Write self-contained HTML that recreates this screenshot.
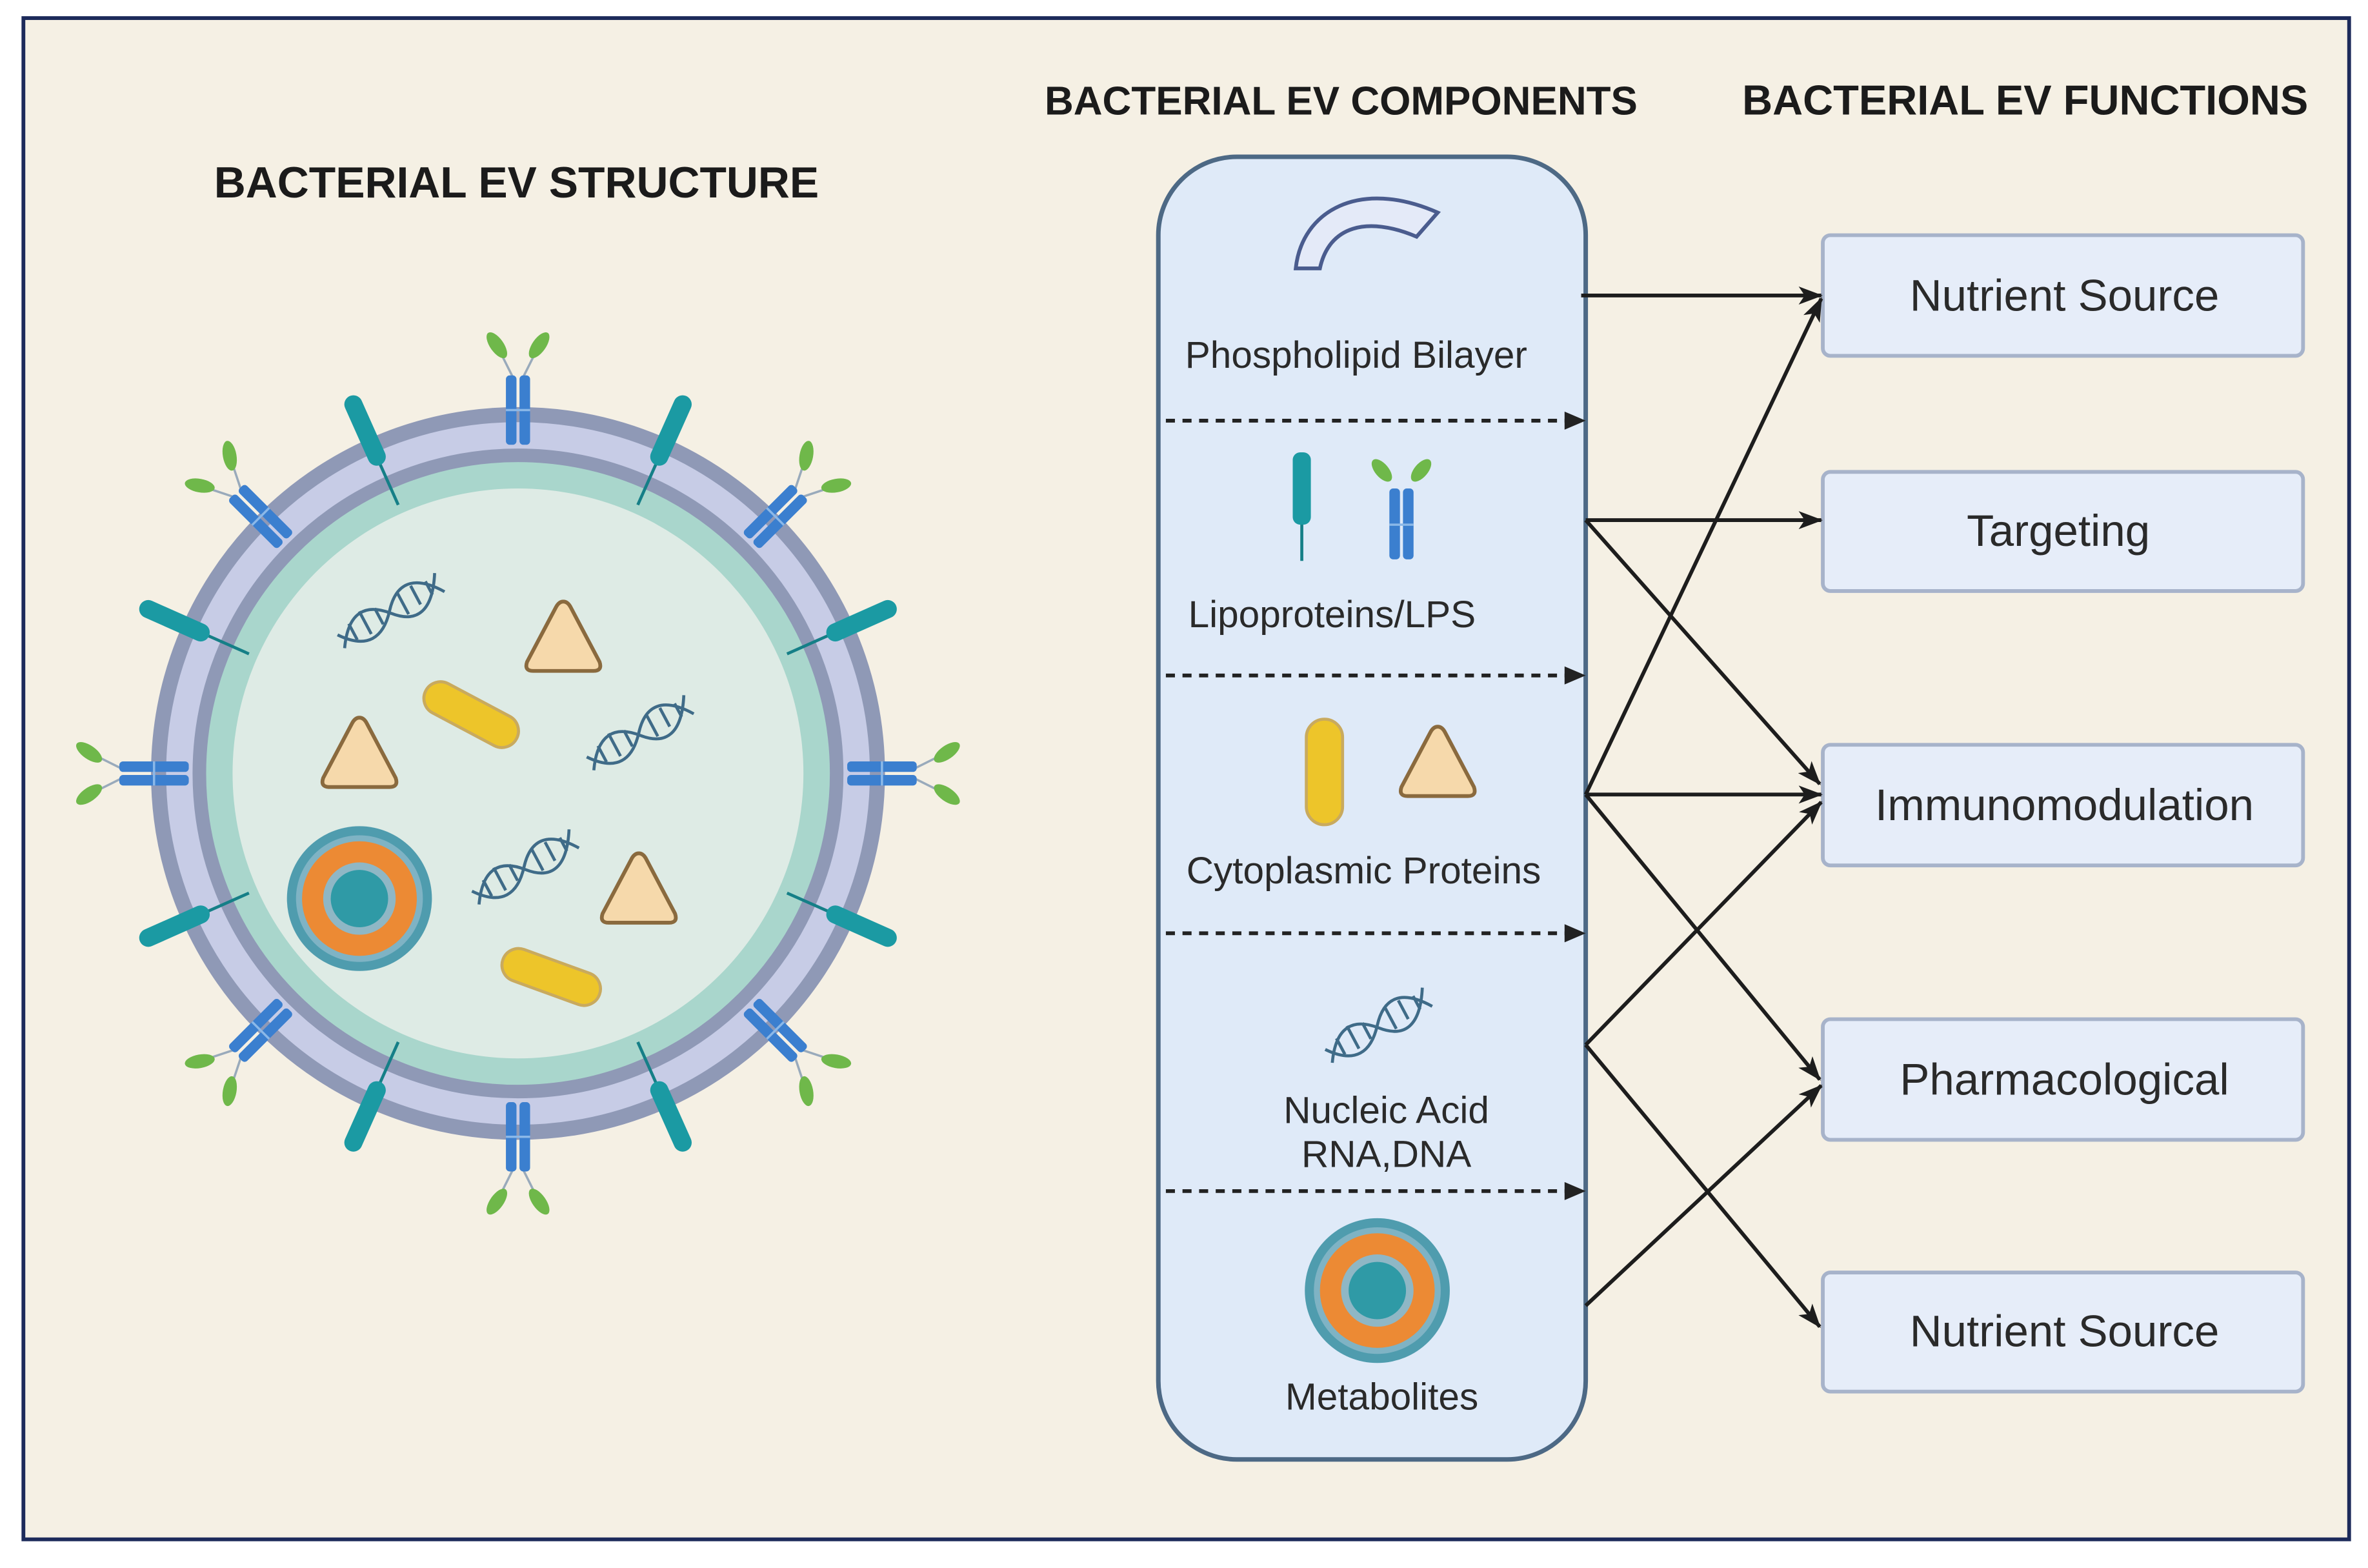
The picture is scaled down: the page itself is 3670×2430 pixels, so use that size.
<!DOCTYPE html>
<html><head><meta charset="utf-8"><style>
html,body{margin:0;padding:0;background:#fff;}
svg{display:block;}
text{font-family:"Liberation Sans",Arial,sans-serif;}
</style></head><body>
<svg width="3670" height="2430" viewBox="0 0 1568 1040" preserveAspectRatio="none" xmlns="http://www.w3.org/2000/svg">
<defs>
 <g id="ab">
  <line x1="-3" y1="-262" x2="-10" y2="-276" stroke="#9ab" stroke-width="1.5"/>
  <line x1="3" y1="-262" x2="10" y2="-276" stroke="#9ab" stroke-width="1.5"/>
  <ellipse cx="-14" cy="-284" rx="4.5" ry="10" transform="rotate(-35 -14 -284)" fill="#6fb84a"/>
  <ellipse cx="14" cy="-284" rx="4.5" ry="10" transform="rotate(35 14 -284)" fill="#6fb84a"/>
  <rect x="-8" y="-264" width="7" height="46" rx="2.5" fill="#3b7fcf"/>
  <rect x="1" y="-264" width="7" height="46" rx="2.5" fill="#3b7fcf"/>
  <line x1="-8" y1="-241" x2="8" y2="-241" stroke="#8bb8e8" stroke-width="1.5"/>
 </g>
 <g id="lp">
  <line x1="0" y1="-195" x2="0" y2="-226" stroke="#157f87" stroke-width="2"/>
  <rect x="-6" y="-274" width="12" height="50" rx="6" fill="#1b9aa3"/>
 </g>
 <g id="dna" fill="none" stroke="#3f6b88" stroke-width="2">
  <path d="M-38,8 C-25,-12 -12,-12 0,2 S25,14 38,-8"/>
  <path d="M-38,-2 C-25,16 -12,14 0,0 S25,-14 38,6"/>
  <line x1="-28" y1="-5" x2="-28" y2="7"/><line x1="-18" y1="-9" x2="-18" y2="8"/>
  <line x1="-8" y1="-6" x2="-8" y2="6"/><line x1="10" y1="-8" x2="10" y2="8"/>
  <line x1="20" y1="-8" x2="20" y2="6"/><line x1="30" y1="-6" x2="30" y2="4"/>
 </g>
 <g id="tri"><path d="M0,-24 Q3,-24 5,-20 L24,16 Q26,22 20,22 L-20,22 Q-26,22 -24,16 L-5,-20 Q-3,-24 0,-24Z" fill="#f6d9ab" stroke="#8a6a3e" stroke-width="2.5"/></g>
 <g id="cap"><rect x="-34" y="-11" width="68" height="22" rx="11" fill="#edc52a" stroke="#c9aa5e" stroke-width="2"/></g>
 <g id="tgt">
  <circle r="48" fill="#4f9cae"/><circle r="42" fill="#7fb3c4"/><circle r="38" fill="#ec8a34"/>
  <circle r="24" fill="#8fb7c5"/><circle r="19" fill="#2f9aa6"/>
 </g>
 <marker id="ah2" viewBox="0 0 16 12" markerWidth="16" markerHeight="12" refX="15" refY="6" orient="auto" markerUnits="userSpaceOnUse"><path d="M0,0 L16,6 L0,12 L4,6 Z" fill="#1d1d1d"/></marker>
</defs>
<rect x="0" y="0" width="1568" height="1040" fill="#ffffff"/>
<rect x="15.5" y="12" width="1540" height="1009" fill="#f5f0e4" stroke="#1c2a5a" stroke-width="2.5"/>

<text x="342" y="131" font-size="29" font-weight="bold" fill="#1b1b1b" text-anchor="middle">BACTERIAL EV STRUCTURE</text>
<text x="888" y="76" font-size="26.5" font-weight="bold" fill="#1b1b1b" text-anchor="middle">BACTERIAL EV COMPONENTS</text>
<text x="1341" y="76" font-size="27.8" font-weight="bold" fill="#1b1b1b" text-anchor="middle">BACTERIAL EV FUNCTIONS</text>

<g>
 <circle cx="343" cy="513" r="238" fill="#c7cce6" stroke="#8f99b6" stroke-width="10"/>
 <circle cx="343" cy="513" r="211" fill="#a9d6cc" stroke="#8f99b6" stroke-width="9"/>
 <circle cx="343" cy="513" r="189" fill="#deebe5"/>
 <g transform="translate(343,513)">
  <use href="#ab" transform="rotate(0)"/><use href="#ab" transform="rotate(45)"/><use href="#ab" transform="rotate(90)"/>
  <use href="#ab" transform="rotate(135)"/><use href="#ab" transform="rotate(180)"/><use href="#ab" transform="rotate(225)"/>
  <use href="#ab" transform="rotate(270)"/><use href="#ab" transform="rotate(315)"/>
  <use href="#lp" transform="rotate(24)"/><use href="#lp" transform="rotate(66)"/><use href="#lp" transform="rotate(114)"/>
  <use href="#lp" transform="rotate(156)"/><use href="#lp" transform="rotate(204)"/><use href="#lp" transform="rotate(246)"/>
  <use href="#lp" transform="rotate(294)"/><use href="#lp" transform="rotate(336)"/>
 </g>
 <use href="#dna" transform="translate(258,405) rotate(-28)"/>
 <use href="#dna" transform="translate(423,486) rotate(-28)"/>
 <use href="#dna" transform="translate(347,575) rotate(-28)"/>
 <use href="#tri" transform="translate(373,423)"/>
 <use href="#tri" transform="translate(238,500)"/>
 <use href="#tri" transform="translate(423,590)"/>
 <use href="#cap" transform="translate(312,474) rotate(28)"/>
 <use href="#cap" transform="translate(365,648) rotate(20)"/>
 <use href="#tgt" transform="translate(238,596)"/>
</g>

<rect x="767" y="104" width="283" height="864" rx="52" fill="#dfeaf8" stroke="#4d6985" stroke-width="3"/>
<path d="M858,178 C862,140 900,118 952,141 L938,157 C905,143 880,150 874,178 Z" fill="#e4eaf8" stroke="#4a5c8e" stroke-width="2.5"/>
<text x="898" y="244" font-size="25" fill="#2a2a2a" text-anchor="middle">Phospholipid Bilayer</text>
<g stroke="#222" stroke-width="2.5" stroke-dasharray="6,5">
 <line x1="772" y1="279" x2="1040" y2="279"/><line x1="772" y1="448" x2="1040" y2="448"/>
 <line x1="772" y1="619" x2="1040" y2="619"/><line x1="772" y1="790" x2="1040" y2="790"/>
</g>
<g fill="#222">
 <path d="M1036,273 L1050,279 L1036,285Z"/><path d="M1036,442 L1050,448 L1036,454Z"/>
 <path d="M1036,613 L1050,619 L1036,625Z"/><path d="M1036,784 L1050,790 L1036,796Z"/>
</g>
<line x1="862" y1="345" x2="862" y2="372" stroke="#157f87" stroke-width="2"/>
<rect x="856" y="300" width="12" height="48" rx="5" fill="#1b9aa3"/>
<g transform="translate(928,368)">
 <ellipse cx="-13" cy="-56" rx="4.5" ry="9" transform="rotate(-40 -13 -56)" fill="#6fb84a"/>
 <ellipse cx="13" cy="-56" rx="4.5" ry="9" transform="rotate(40 13 -56)" fill="#6fb84a"/>
 <rect x="-8" y="-44" width="7" height="47" rx="2.5" fill="#3b7fcf"/>
 <rect x="1" y="-44" width="7" height="47" rx="2.5" fill="#3b7fcf"/>
 <line x1="-8" y1="-20" x2="8" y2="-20" stroke="#8bb8e8" stroke-width="1.5"/>
</g>
<text x="882" y="416" font-size="25" fill="#2a2a2a" text-anchor="middle">Lipoproteins/LPS</text>
<rect x="865" y="477" width="24" height="70" rx="12" fill="#edc52a" stroke="#c9aa5e" stroke-width="2"/>
<use href="#tri" transform="translate(952,506)"/>
<text x="903" y="586" font-size="25" fill="#2a2a2a" text-anchor="middle">Cytoplasmic Proteins</text>
<use href="#dna" transform="translate(912,680) rotate(-28)"/>
<text x="918" y="745" font-size="25" fill="#2a2a2a" text-anchor="middle">Nucleic Acid</text>
<text x="918" y="774" font-size="25" fill="#2a2a2a" text-anchor="middle">RNA,DNA</text>
<use href="#tgt" transform="translate(912,856)"/>
<text x="915" y="935" font-size="25" fill="#2a2a2a" text-anchor="middle">Metabolites</text>

<g fill="#e6edf9" stroke="#a7b3ca" stroke-width="2.5">
 <rect x="1207" y="156" width="318" height="80" rx="5"/>
 <rect x="1207" y="313" width="318" height="79" rx="5"/>
 <rect x="1207" y="494" width="318" height="80" rx="5"/>
 <rect x="1207" y="676" width="318" height="80" rx="5"/>
 <rect x="1207" y="844" width="318" height="79" rx="5"/>
</g>
<g font-size="29.5" fill="#2a2a2a" text-anchor="middle">
 <text x="1367" y="206">Nutrient Source</text>
 <text x="1363" y="362">Targeting</text>
 <text x="1367" y="544">Immunomodulation</text>
 <text x="1367" y="726">Pharmacological</text>
 <text x="1367" y="893">Nutrient Source</text>
</g>

<g stroke="#1d1d1d" stroke-width="2.5" fill="none" marker-end="url(#ah2)">
 <line x1="1047" y1="196" x2="1206" y2="196"/>
 <line x1="1050" y1="345" x2="1206" y2="345"/>
 <line x1="1050" y1="345" x2="1205" y2="520"/>
 <line x1="1050" y1="527" x2="1206" y2="198"/>
 <line x1="1050" y1="527" x2="1206" y2="527"/>
 <line x1="1050" y1="527" x2="1205" y2="716"/>
 <line x1="1050" y1="693" x2="1206" y2="532"/>
 <line x1="1050" y1="693" x2="1205" y2="880"/>
 <line x1="1050" y1="866" x2="1206" y2="720"/>
</g>
</svg>
</body></html>
